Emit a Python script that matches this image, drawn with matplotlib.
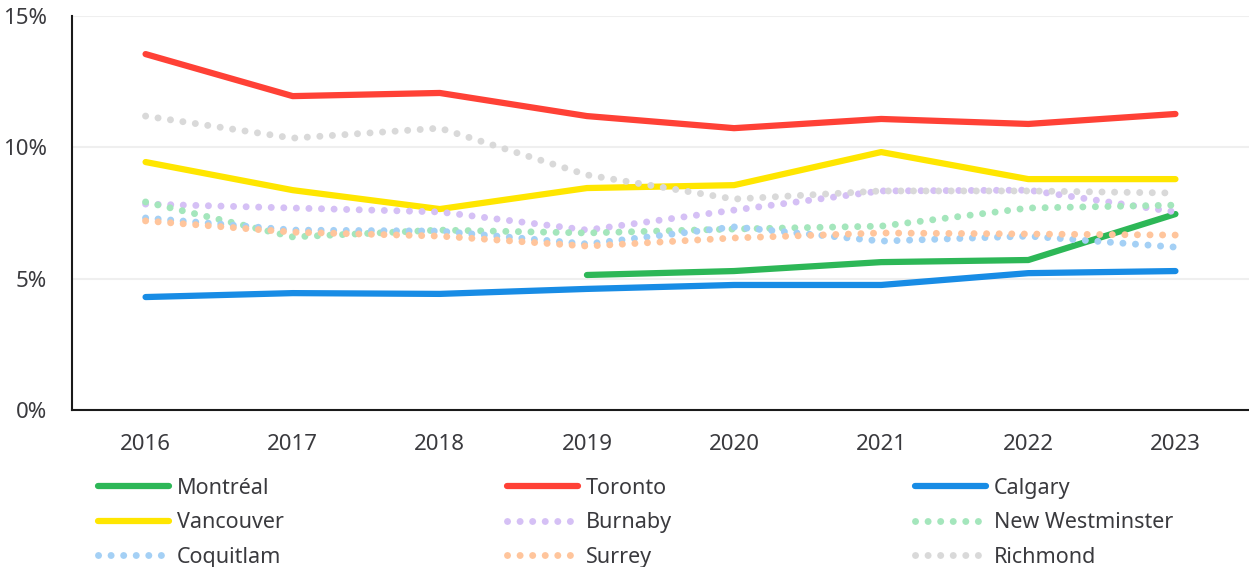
import matplotlib.pyplot as plt
from matplotlib.lines import Line2D

# data (percent)
years = ["2016", "2017", "2018", "2019", "2020", "2021", "2022", "2023"]

montreal = [None, None, None, 5.14, 5.29, 5.63, 5.71, 7.46]
toronto = [13.55, 11.95, 12.07, 11.19, 10.73, 11.08, 10.89, 11.27]
calgary = [4.30, 4.45, 4.42, 4.61, 4.76, 4.76, 5.21, 5.29]
vancouver = [9.44, 8.37, 7.65, 8.45, 8.56, 9.82, 8.79, 8.79]
burnaby = [7.84, 7.69, 7.54, 6.85, 7.61, 8.34, 8.37, 7.54]
new_westminster = [7.92, 6.59, 6.85, 6.74, 6.89, 7.00, 7.69, 7.80]
coquitlam = [7.31, 6.85, 6.81, 6.32, 6.97, 6.43, 6.62, 6.20]
surrey = [7.20, 6.77, 6.62, 6.24, 6.55, 6.74, 6.70, 6.66]
richmond = [11.19, 10.35, 10.73, 8.95, 8.03, 8.34, 8.34, 8.26]

series = [
    ("Montréal", montreal, "#2DB757", "solid"),
    ("Toronto", toronto, "#FF4136", "solid"),
    ("Calgary", calgary, "#188CE5", "solid"),
    ("Vancouver", vancouver, "#FFE600", "solid"),
    ("Burnaby", burnaby, "#D5C0F5", "dot"),
    ("New Westminster", new_westminster, "#A4E6BC", "dot"),
    ("Coquitlam", coquitlam, "#A4D0F5", "dot"),
    ("Surrey", surrey, "#FFC59C", "dot"),
    ("Richmond", richmond, "#D9D9D9", "dot"),
]

TEXT = "#3A3A3E"
LW = 4.5
DOT_LW = 5.0
DOTS = (0, (0.01, 1.8))
plt.rcParams["font.family"] = ["Noto Sans", "DejaVu Sans"]

fig = plt.figure(figsize=(12.49, 5.67), dpi=100)
ax = fig.add_axes([72 / 1249, 1 - 410 / 567, 1 - 72 / 1249, (410 - 16) / 567])

x = list(range(len(years)))
styles = {}
for name, vals, col, style in series:
    xs = [i for i, v in zip(x, vals) if v is not None]
    ys = [v for v in vals if v is not None]
    if style == "solid":
        ax.plot(xs, ys, color=col, lw=LW, solid_capstyle="round",
                solid_joinstyle="round")
    else:
        ax.plot(xs, ys, color=col, lw=DOT_LW, linestyle=DOTS,
                dash_capstyle="round")
    styles[name] = (col, style)

ax.set_xlim(-0.5, 7.5)
ax.set_ylim(0, 15)
ax.set_xticks(x)
ax.set_xticklabels(years)
ax.set_yticks([0, 5, 10, 15])
ax.set_yticklabels(["0%", "5%", "10%", "15%"])
ax.tick_params(length=0, labelsize=16, labelcolor=TEXT)
ax.tick_params(axis="x", pad=17)
ax.tick_params(axis="y", pad=18)
ax.grid(axis="y", color="#EFEFEF", lw=1.5)
ax.set_axisbelow(True)
for s in ["top", "right"]:
    ax.spines[s].set_visible(False)
for s in ["left", "bottom"]:
    ax.spines[s].set_color("#1A1A1A")
    ax.spines[s].set_linewidth(1.5)

# legend: three columns placed separately
cols = [["Montréal", "Vancouver", "Coquitlam"],
        ["Toronto", "Burnaby", "Surrey"],
        ["Calgary", "New Westminster", "Richmond"]]
col_x = [98, 507, 915]
for names, cx in zip(cols, col_x):
    hs = []
    for n in names:
        col, style = styles[n]
        if style == "solid":
            hs.append(Line2D([], [], color=col, lw=LW, solid_capstyle="round"))
        else:
            hs.append(Line2D([], [], color=col, lw=DOT_LW, linestyle=DOTS,
                             dash_capstyle="round"))
    fig.legend(hs, names, loc="upper left",
               bbox_to_anchor=(cx / 1249, 1 - 478 / 567),
               frameon=False, fontsize=15.5, handlelength=3.3,
               handletextpad=0.35, labelspacing=0.62,
               borderpad=0, borderaxespad=0, labelcolor=TEXT)

fig.savefig("out.png", dpi=100)
